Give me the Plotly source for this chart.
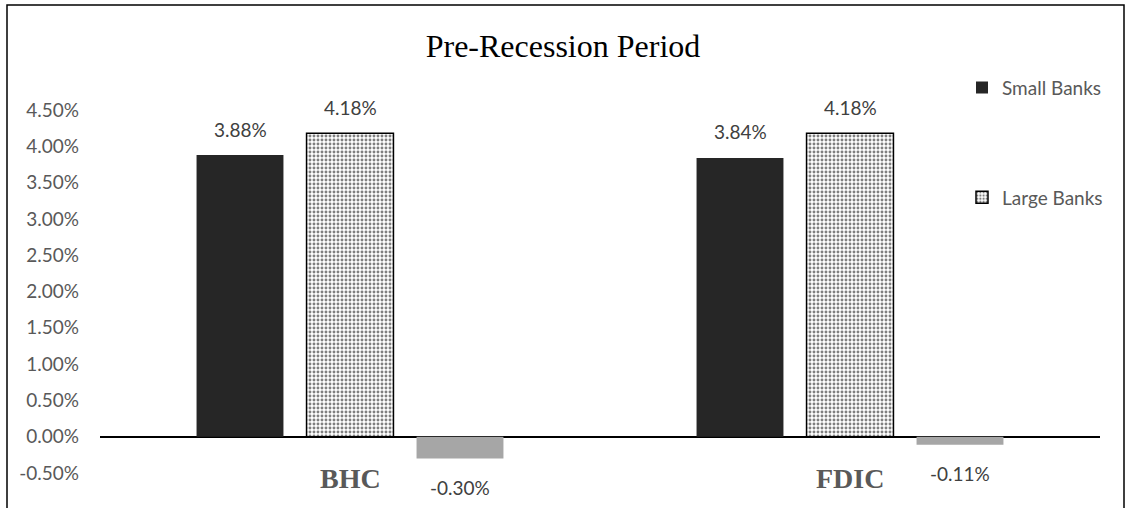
import plotly.graph_objects as go

# Categories and series (values in percent)
categories = ["BHC", "FDIC"]
small_banks = [3.88, 3.84]
large_banks = [4.18, 4.18]
difference = [-0.30, -0.11]

series_names = ["Small Banks", "Large Banks", "Difference"]
tick_vals = [-0.5, 0.0, 0.5, 1.0, 1.5, 2.0, 2.5, 3.0, 3.5, 4.0, 4.5]
tick_text = [f"{v:.2f}%" for v in tick_vals]

SANS = "Lato, 'Open Sans', sans-serif"
SERIF = "'Liberation Serif', 'Times New Roman', serif"
GRAY_TXT = "#595959"

fig = go.Figure()

fig.add_trace(go.Bar(
    x=categories, y=small_banks, name=series_names[0],
    marker=dict(color="#262626", line=dict(width=0)),
    legendgroup="a",
))
fig.add_trace(go.Bar(
    x=categories, y=large_banks, name=series_names[1],
    marker=dict(
        color="white",
        line=dict(color="black", width=1.5),
        pattern=dict(shape=".", fgcolor="black", bgcolor="white", size=4, solidity=0.42),
    ),
    legendgroup="b",
))
fig.add_trace(go.Bar(
    x=categories, y=difference, name=series_names[2],
    marker=dict(color="#a6a6a6", line=dict(width=0)),
    showlegend=False,
    legendgroup="c",
))

# Value labels just beyond each bar end
offsets = [-110, 0, 110]
for vals, dx in zip([small_banks, large_banks, difference], offsets):
    for cat, v in zip(categories, vals):
        fig.add_annotation(
            x=cat, y=v, xref="x", yref="y",
            text=f"{v:.2f}%", showarrow=False,
            xshift=dx, yshift=26 if v >= 0 else -29,
            yanchor="middle",
            font=dict(family=SANS, size=19, color="#404040"),
        )

# Category names drawn near the bottom of the plot area
for cat in categories:
    fig.add_annotation(
        x=cat, y=-0.5, xref="x", yref="y",
        text=f"<b>{cat}</b>", showarrow=False,
        yanchor="middle", yshift=-5,
        font=dict(family=SERIF, size=28, color=GRAY_TXT),
    )

# Outer chart border
fig.add_shape(
    type="rect", xref="paper", yref="paper",
    x0=-0.093, x1=1.024, y0=-0.2, y1=1.289,
    line=dict(color="black", width=1.5), fillcolor="rgba(0,0,0,0)",
    layer="above",
)

fig.update_layout(
    width=1126, height=508,
    margin=dict(l=100, r=26, t=110, b=35),
    paper_bgcolor="white", plot_bgcolor="white",
    barmode="group", bargap=0.34, bargroupgap=0.21,
    title=dict(
        text="Pre-Recession Period", x=0.5, xanchor="center",
        y=1 - 46 / 508, yanchor="middle",
        font=dict(family=SERIF, size=32, color="black"),
    ),
    xaxis=dict(showticklabels=False, showgrid=False, zeroline=False, showline=False,
               fixedrange=True),
    yaxis=dict(
        range=[-0.5, 4.5], tickvals=tick_vals, ticktext=tick_text,
        showgrid=False, zeroline=True, zerolinecolor="black", zerolinewidth=1.5,
        showline=False, ticks="", ticklabelstandoff=20,
        tickfont=dict(family=SANS, size=19, color=GRAY_TXT),
    ),
    legend=dict(
        x=0.862, y=1.114, xanchor="left", yanchor="top",
        font=dict(family=SANS, size=19, color=GRAY_TXT),
        traceorder="grouped", tracegroupgap=82,
        bgcolor="rgba(0,0,0,0)", itemwidth=30,
    ),
    showlegend=True,
)

fig.write_html("out.html")
